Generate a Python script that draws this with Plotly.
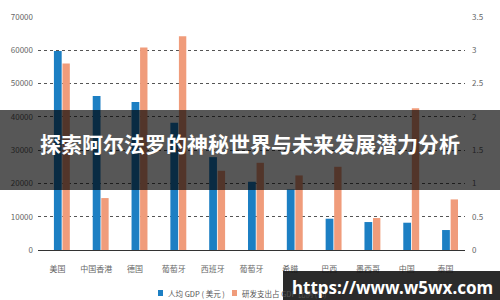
import plotly.graph_objects as go

categories = ["美国", "中国香港", "德国", "葡萄牙", "西班牙", "葡萄牙", "希腊", "巴西", "墨西哥", "中国", "泰国"]
gdp_per_capita = [59800, 46300, 44500, 38200, 27900, 20500, 18200, 9400, 8400, 8200, 6000]
rd_share = [2.80, 0.78, 3.04, 3.21, 1.19, 1.31, 1.12, 1.25, 0.48, 2.13, 0.76]
left_ticks = [0, 10000, 20000, 30000, 40000, 50000, 60000, 70000]
right_ticks = [0, 0.5, 1, 1.5, 2, 2.5, 3, 3.5]
series_names = ["人均 GDP ( 美元 )", "研发支出占 GDP 比例 (%)"]
series_colors = ["#1c7fc3", "#f09c7b"]
title_text = "探索阿尔法罗的神秘世界与未来发展潜力分析"
watermark_text = "https://www.w5wx.com"

W, H = 500, 300
ML, MR, MT, MB = 38, 35, 17, 50
PW, PH = W - ML - MR, H - MT - MB

def px_x(x):
    return (x - ML) / PW

def px_y(y):
    return (H - MB - y) / PH

xs = list(range(len(categories)))

fig = go.Figure()
fig.add_trace(go.Bar(
    x=xs, y=gdp_per_capita, name=series_names[0],
    marker=dict(color=series_colors[0], line=dict(width=0)),
    width=0.2, offset=-0.09, yaxis="y", showlegend=False,
))
fig.add_trace(go.Bar(
    x=xs, y=rd_share, name=series_names[1],
    marker=dict(color=series_colors[1], line=dict(width=0)),
    width=0.19, offset=0.13, yaxis="y2", showlegend=False,
))

tickfont = dict(family="Noto Sans CJK SC, Noto Sans, sans-serif", size=8, color="#666666")
legfont = dict(family="Noto Sans CJK SC, sans-serif", size=7.5, color="#555555")

# manual legend (swatch + label)
legend_x = [158, 232]
legend_y = 293
shapes = []
annotations = []
for i, name in enumerate(series_names):
    x0 = legend_x[i]
    shapes.append(dict(type="rect", xref="paper", yref="paper",
                       x0=px_x(x0), x1=px_x(x0 + 5), y0=px_y(legend_y + 3), y1=px_y(legend_y - 3),
                       fillcolor=series_colors[i], line=dict(width=0), layer="above"))
    annotations.append(dict(text=name, xref="paper", yref="paper",
                            x=px_x(x0 + 8), y=px_y(legend_y), xanchor="left", yanchor="middle",
                            showarrow=False, font=legfont))

shapes += [
    dict(type="rect", xref="paper", yref="paper",
         x0=px_x(0), x1=px_x(W), y0=px_y(190), y1=px_y(110),
         fillcolor="rgba(0,0,0,0.66)", line=dict(width=0), layer="above"),
    dict(type="rect", xref="paper", yref="paper",
         x0=px_x(283), x1=px_x(W), y0=px_y(H), y1=px_y(271),
         fillcolor="rgba(20,20,20,0.9)", line=dict(width=0), layer="above"),
]
annotations += [
    dict(text=f"<b>{title_text}</b>", xref="paper", yref="paper",
         x=px_x(250), y=px_y(143), xanchor="center", yanchor="middle",
         showarrow=False,
         font=dict(family="Noto Sans CJK SC, sans-serif", size=21, color="white")),
    dict(text=f"<b>{watermark_text}</b>", xref="paper", yref="paper",
         x=px_x(392), y=px_y(287), xanchor="center", yanchor="middle",
         showarrow=False,
         font=dict(family="Noto Sans, sans-serif", size=17, color="white")),
]

fig.update_layout(
    width=W, height=H,
    margin=dict(l=ML, r=MR, t=MT, b=MB, pad=0, autoexpand=False),
    paper_bgcolor="white", plot_bgcolor="white",
    barmode="overlay",
    showlegend=False,
    xaxis=dict(
        range=[-0.5, len(categories) - 0.5],
        tickmode="array", tickvals=xs, ticktext=categories,
        tickfont=tickfont, showgrid=False, zeroline=False,
        showline=True, linecolor="#333333", linewidth=1,
        ticks="", ticklabelstandoff=11, fixedrange=True,
    ),
    yaxis=dict(
        range=[0, 70000], tickmode="array", tickvals=left_ticks,
        ticktext=[str(v) for v in left_ticks],
        tickfont=tickfont, showgrid=True, gridcolor="#555555", gridwidth=1,
        griddash="3px,3px", zeroline=False, showline=False, ticks="",
        ticklabelstandoff=4,
    ),
    yaxis2=dict(
        range=[0, 3.5], overlaying="y", side="right", tickmode="array",
        tickvals=right_ticks, ticktext=[f"{v:g}" for v in right_ticks],
        tickfont=tickfont, showgrid=False, zeroline=False, showline=False,
        ticks="", ticklabelstandoff=6,
    ),
    shapes=shapes,
    annotations=annotations,
)

fig.write_html("out.html")
